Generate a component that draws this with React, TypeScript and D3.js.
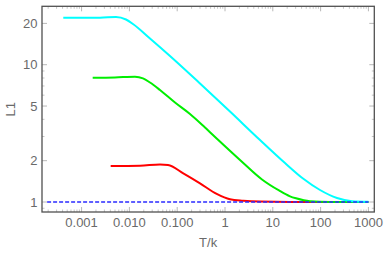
import React from "react";
import * as d3 from "d3";

const W = 388;
const H = 256;

// [T/k, L1]
const cyanT = [0.000414, 0.00243, 0.00525, 0.00849, 0.01208, 0.02698, 0.07069, 0.2999, 1.272, 5.398, 17.99, 42.83, 97.14, 220.3, 453.9, 1000];
const cyanL = [21.96, 21.99, 22.25, 21.34, 19.7, 15.52, 11.57, 7.3, 4.56, 2.829, 1.923, 1.483, 1.223, 1.069, 1.0135, 1.0034];

const greenT = [0.001707, 0.004996, 0.0131, 0.01925, 0.02698, 0.04367, 0.08995, 0.1853, 0.3816, 0.7243, 2.06, 5.943, 13.48, 22.9, 30.58, 60.0, 157.3, 1000];
const greenL = [8.04, 8.08, 8.18, 7.96, 7.42, 6.54, 5.3, 4.375, 3.488, 2.829, 2.023, 1.458, 1.213, 1.1, 1.064, 1.0135, 1.0017, 1.0];

const redT = [0.00406, 0.0167, 0.0437, 0.0643, 0.134, 0.3, 0.67, 1.27, 2.41, 5.4, 22.9, 1000];
const redL = [1.829, 1.838, 1.876, 1.86, 1.618, 1.368, 1.144, 1.046, 1.022, 1.007, 1.0, 1.0];

const baseT = [0.00019, 1000];
const baseL = [1, 1];

const xTickValues = [0.001, 0.01, 0.1, 1, 10, 100, 1000];
const xTickLabels = ["0.001", "0.010", "0.100", "1", "10", "100", "1000"];
const yTickValues = [1, 2, 5, 10, 20];
const yTickLabels = ["1", "2", "5", "10", "20"];

const xLabel = "T/k";
const yLabel = "L1";

export default function App() {
  const left = 42, right = 374.3, top = 6.3, bottom = 212;
  const x = d3.scaleLog().domain([Math.pow(10, -3.828), Math.pow(10, 3.123)]).range([left, right]);
  const y = d3.scaleLog().domain([Math.pow(10, -0.0728), Math.pow(10, 1.4254)]).range([bottom, top]);

  const line = d3
    .line<[number, number]>()
    .x((d) => x(d[0]))
    .y((d) => y(d[1]))
    .curve(d3.curveMonotoneX);

  const zip = (a: number[], b: number[]) => a.map((v, i) => [v, b[i]] as [number, number]);

  const xMinor: number[] = [];
  for (let e = -4; e <= 3; e++) {
    for (let m = 2; m <= 9; m++) {
      const v = m * Math.pow(10, e);
      if (v >= x.domain()[0] && v <= x.domain()[1]) xMinor.push(v);
    }
  }
  const yMinor: number[] = [];
  for (let e = -1; e <= 1; e++) {
    for (let m = 1; m <= 9; m++) {
      const v = m * Math.pow(10, e);
      if (v >= y.domain()[0] && v <= y.domain()[1] && !yTickValues.includes(v)) yMinor.push(v);
    }
  }

  const tickColor = "#b8b8b8";
  const labelColor = "#6a6a6a";
  const font = "'Liberation Sans', Arial, sans-serif";

  return (
    <svg width={W} height={H} style={{ position: "absolute", left: 0, top: 0 }} fontFamily={font}>
      <rect x={0} y={0} width={W} height={H} fill="#fff" />
      {xTickValues.map((v, i) => (
        <g key={"xt" + i}>
          <line x1={x(v)} x2={x(v)} y1={bottom} y2={bottom - 5} stroke={tickColor} strokeWidth={1} />
          <line x1={x(v)} x2={x(v)} y1={top} y2={top + 5} stroke={tickColor} strokeWidth={1} />
          <text x={x(v)} y={226.7} textAnchor="middle" fontSize={13} fill={labelColor}>
            {xTickLabels[i]}
          </text>
        </g>
      ))}
      {xMinor.map((v, i) => (
        <g key={"xm" + i}>
          <line x1={x(v)} x2={x(v)} y1={bottom} y2={bottom - 2.5} stroke={tickColor} strokeWidth={0.8} />
          <line x1={x(v)} x2={x(v)} y1={top} y2={top + 2.5} stroke={tickColor} strokeWidth={0.8} />
        </g>
      ))}
      {yTickValues.map((v, i) => (
        <g key={"yt" + i}>
          <line x1={left} x2={left + 5} y1={y(v)} y2={y(v)} stroke={tickColor} strokeWidth={1} />
          <line x1={right} x2={right - 5} y1={y(v)} y2={y(v)} stroke={tickColor} strokeWidth={1} />
          <text x={37.5} y={y(v) + 4.6} textAnchor="end" fontSize={13} fill={labelColor}>
            {yTickLabels[i]}
          </text>
        </g>
      ))}
      {yMinor.map((v, i) => (
        <g key={"ym" + i}>
          <line x1={left} x2={left + 2.5} y1={y(v)} y2={y(v)} stroke={tickColor} strokeWidth={0.8} />
          <line x1={right} x2={right - 2.5} y1={y(v)} y2={y(v)} stroke={tickColor} strokeWidth={0.8} />
        </g>
      ))}

      <path d={line(zip(redT, redL)) || ""} fill="none" stroke="#ff0000" strokeWidth={2} />
      <path d={line(zip(greenT, greenL)) || ""} fill="none" stroke="#00ee00" strokeWidth={2} />
      <path d={line(zip(cyanT, cyanL)) || ""} fill="none" stroke="#00ffff" strokeWidth={2} />
      <path d={line(zip(baseT, baseL)) || ""} fill="none" stroke="#2b2bff" strokeWidth={1.6} strokeDasharray="4,2" />

      <rect x={left} y={top} width={right - left} height={bottom - top} fill="none" stroke="#505050" strokeWidth={1.3} />

      <text x={(left + right) / 2} y={246.7} textAnchor="middle" fontSize={13} fill={labelColor}>
        {xLabel}
      </text>
      <text transform={`translate(14.7, ${(top + bottom) / 2}) rotate(-90)`} textAnchor="middle" fontSize={13} fill={labelColor}>
        {yLabel}
      </text>
    </svg>
  );
}
